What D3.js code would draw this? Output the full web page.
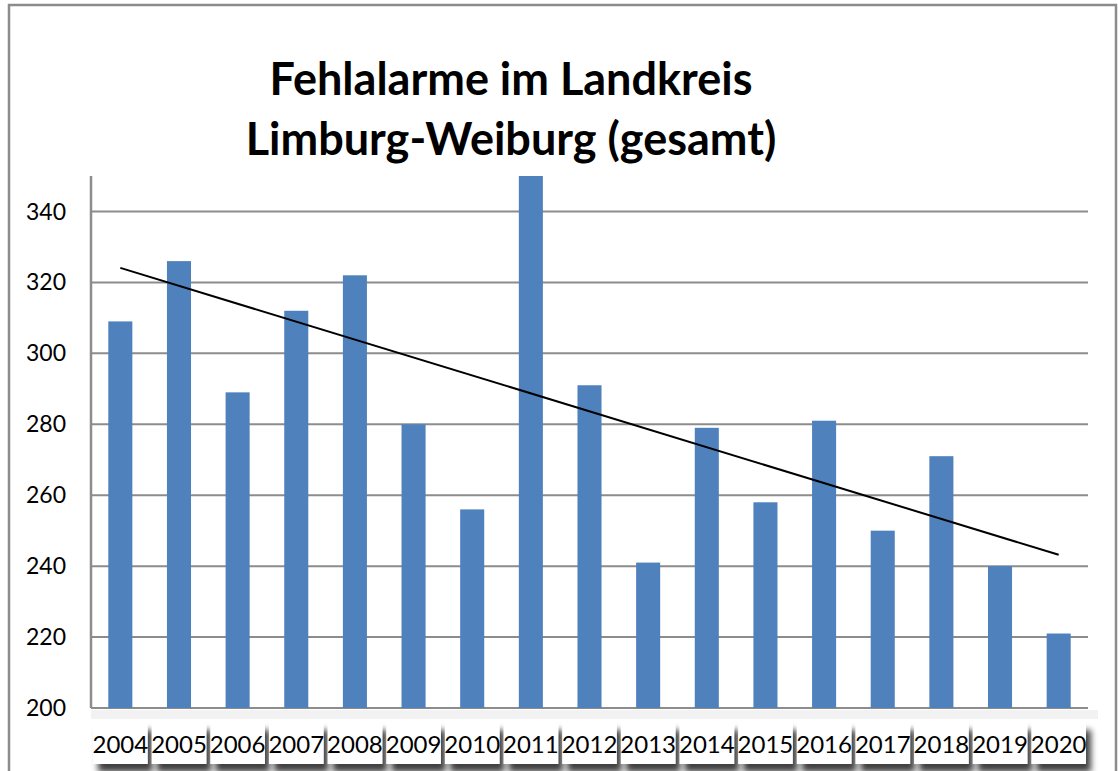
<!DOCTYPE html>
<html>
<head>
<meta charset="utf-8">
<script src="https://cdn.jsdelivr.net/npm/d3@7"></script>
<style>
  body { margin: 0; background: #fff; }
  svg { display: block; font-family: Lato, "Open Sans", sans-serif; }
</style>
</head>
<body>
<svg width="1118" height="771"></svg>
<script>
// data
var years = ["2004","2005","2006","2007","2008","2009","2010","2011","2012",
             "2013","2014","2015","2016","2017","2018","2019","2020"];
var alarms = [309, 326, 289, 312, 322, 280, 256, 396, 291,
              241, 279, 258, 281, 250, 271, 240, 221];
var yTicks = [200, 220, 240, 260, 280, 300, 320, 340];
var titleLines = ["Fehlalarme im Landkreis", "Limburg-Weiburg (gesamt)"];

var svg = d3.select("svg");
var plotLeft = 91, plotRight = 1088, plotTop = 176, plotBottom = 708;

var xScale = d3.scaleBand().domain(years).range([plotLeft, plotRight]).paddingInner(0.59).paddingOuter(0.295);
var yScale = d3.scaleLinear().domain([200, 350]).range([plotBottom, plotTop]);

// outer frame
svg.append("path")
  .attr("d", "M9,771 V5 H1116 V771")
  .attr("fill", "none")
  .attr("stroke", "#8c8c8c")
  .attr("stroke-width", 2.5);

// title
svg.append("g").selectAll("text")
  .data(titleLines)
  .enter().append("text")
  .attr("x", 511)
  .attr("y", function (d, i) { return 95 + i * 60; })
  .attr("text-anchor", "middle")
  .attr("font-size", "45px")
  .attr("font-weight", "bold")
  .attr("fill", "#000")
  .text(function (d) { return d; });

// gridlines
svg.append("g").selectAll("line")
  .data(yTicks)
  .enter().append("line")
  .attr("x1", plotLeft).attr("x2", plotRight)
  .attr("y1", function (d) { return yScale(d); })
  .attr("y2", function (d) { return yScale(d); })
  .attr("stroke", "#8c8c8c")
  .attr("stroke-width", 2);

// y axis line
svg.append("line")
  .attr("x1", plotLeft).attr("x2", plotLeft)
  .attr("y1", plotTop).attr("y2", plotBottom)
  .attr("stroke", "#8c8c8c")
  .attr("stroke-width", 2.5);

// y tick labels
svg.append("g").selectAll("text")
  .data(yTicks)
  .enter().append("text")
  .attr("x", 66)
  .attr("y", function (d) { return yScale(d); })
  .attr("dy", "0.35em")
  .attr("text-anchor", "end")
  .attr("font-size", "23px")
  .attr("fill", "#000")
  .text(function (d) { return d; });

// bars, clipped to the plot area
svg.append("clipPath").attr("id", "plot")
  .append("rect").attr("x", plotLeft).attr("y", plotTop)
  .attr("width", plotRight - plotLeft).attr("height", plotBottom - plotTop);

svg.append("g").attr("clip-path", "url(#plot)")
  .selectAll(".bar")
  .data(alarms)
  .enter().append("rect")
  .attr("class", "bar")
  .attr("x", function (d, i) { return xScale(years[i]); })
  .attr("y", function (d) { return yScale(d); })
  .attr("width", xScale.bandwidth())
  .attr("height", function (d) { return plotBottom - yScale(d); })
  .attr("fill", "#4f81bd");

// linear trendline (least squares over the bars)
var n = alarms.length;
var mx = (n - 1) / 2, my = d3.mean(alarms);
var sxy = d3.sum(alarms, function (d, i) { return (i - mx) * (d - my); });
var sxx = d3.sum(alarms, function (d, i) { return (i - mx) * (i - mx); });
var slope = sxy / sxx;
var trend = [0, n - 1].map(function (i) { return [i, my + slope * (i - mx)]; });
var bandCenter = function (i) { return xScale(years[i]) + xScale.bandwidth() / 2; };

svg.append("line")
  .attr("x1", bandCenter(trend[0][0])).attr("y1", yScale(trend[0][1]))
  .attr("x2", bandCenter(trend[1][0])).attr("y2", yScale(trend[1][1]))
  .attr("stroke", "#000")
  .attr("stroke-width", 2);

// faint band under the axis
svg.append("rect")
  .attr("x", plotLeft).attr("y", plotBottom + 2)
  .attr("width", plotRight - plotLeft + 10).attr("height", 9)
  .attr("fill", "#f2f2f2");

// x labels in boxes with a drop shadow
var defs = svg.append("defs");
var f = defs.append("filter").attr("id", "shadow")
  .attr("x", "-20%").attr("y", "-20%").attr("width", "160%").attr("height", "160%");
f.append("feDropShadow")
  .attr("dx", 5).attr("dy", 8)
  .attr("stdDeviation", 3)
  .attr("flood-color", "#000")
  .attr("flood-opacity", 0.75);

var step = xScale.step();
var labels = svg.append("g").selectAll("g")
  .data(years)
  .enter().append("g")
  .attr("transform", function (d, i) {
    return "translate(" + (plotLeft + 2 + i * step) + ",722)";
  });

labels.append("rect")
  .attr("width", step - 4)
  .attr("height", 42)
  .attr("fill", "#fff")
  .attr("filter", "url(#shadow)");

labels.append("text")
  .attr("x", (step - 4) / 2)
  .attr("y", 23)
  .attr("dy", "0.35em")
  .attr("text-anchor", "middle")
  .attr("font-size", "24px")
  .attr("fill", "#000")
  .text(function (d) { return d; });
</script>
</body>
</html>
